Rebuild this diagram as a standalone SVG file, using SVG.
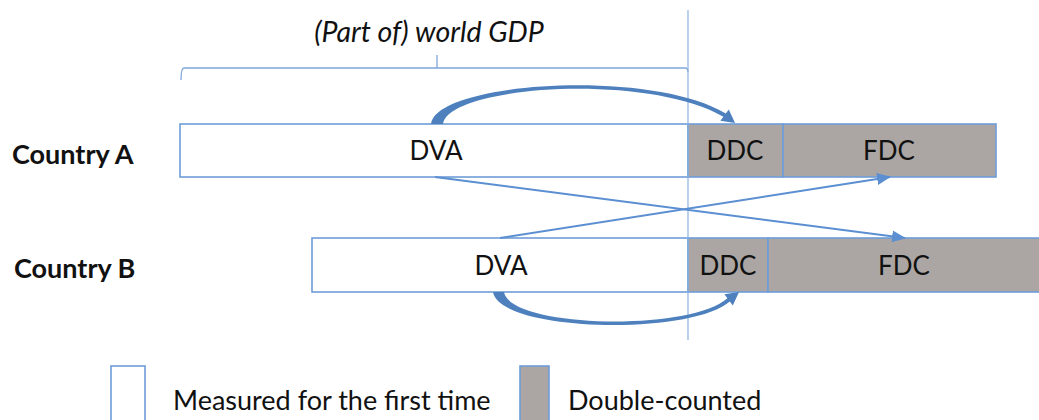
<svg xmlns="http://www.w3.org/2000/svg" width="1039" height="420" viewBox="0 0 1039 420">
<style>
.box{stroke:#6e9dd8;stroke-width:1.6}
.w{fill:#ffffff}
.g{fill:#aba6a3}
.lbl{font-family:Lato,"Liberation Sans",sans-serif;font-size:26px;fill:#111;text-anchor:middle}
.cty{font-family:Lato,"Liberation Sans",sans-serif;font-size:27px;font-weight:bold;fill:#111}
.leg{font-family:Lato,"Liberation Sans",sans-serif;font-size:27px;fill:#111}
.ttl{font-family:Lato,"Liberation Sans",sans-serif;font-size:28.5px;font-style:italic;fill:#111;text-anchor:middle}
.cross{stroke:#5b8fd2;stroke-width:2;fill:none}
.curve{fill:#4d80bd}
</style>
<defs>
<marker id="ah" viewBox="0 0 14 12" refX="13" refY="6" markerWidth="14" markerHeight="12" markerUnits="userSpaceOnUse" orient="auto">
<path d="M0,0 L14,6 L0,12 z" fill="#5b8fd2"/>
</marker>
</defs>
<rect width="1039" height="420" fill="#ffffff"/>

<g id="title">
<text class="ttl" x="429" y="42">(Part of) world GDP</text>
<path d="M181,80 Q181,68 184,68 L685,68 Q688,68 688,72 M437,68 L437,55" fill="none" stroke="#7fa7da" stroke-width="1.3"/>
</g>

<g id="countryA">
<text class="cty" x="12" y="164">Country A</text>
<rect class="box w" x="180" y="124" width="508" height="53"/>
<rect class="box g" x="688" y="124" width="95" height="53"/>
<rect class="box g" x="783" y="124" width="213" height="53"/>
<text class="lbl" x="436" y="160">DVA</text>
<text class="lbl" x="735" y="160">DDC</text>
<text class="lbl" x="889" y="160">FDC</text>
</g>

<g id="countryB">
<text class="cty" x="14" y="278">Country B</text>
<rect class="box w" x="312" y="238" width="376" height="54"/>
<rect class="box g" x="688" y="238" width="80" height="54"/>
<rect class="box g" x="768" y="238" width="273" height="54"/>
<text class="lbl" x="501" y="275">DVA</text>
<text class="lbl" x="728" y="275">DDC</text>
<text class="lbl" x="904" y="275">FDC</text>
</g>

<g id="divider">
<line x1="688" y1="10" x2="688" y2="340" stroke="#8db2e2" stroke-width="1.2"/>
</g>

<g id="connectors">
<line class="cross" x1="435" y1="177" x2="905" y2="238" marker-end="url(#ah)"/>
<line class="cross" x1="500" y1="238" x2="890" y2="177" marker-end="url(#ah)"/>
<path class="curve" d="M431,124 C436,82 650,68 725.8,113.6 L728.8,109.6 L735,123 L720.4,120.8 L723.4,116.8 C645,72 448,86 443,124 Z"/>
<path class="curve" d="M493,292 C500,332 690,336 729.8,301.4 L732.8,305.4 L739,292 L724.4,294.2 L727.4,298.2 C690,332 510,328 504,292 Z"/>
</g>

<g id="legend">
<rect class="box w" x="111" y="366" width="34" height="60"/>
<text class="leg" x="173" y="410">Measured for the first time</text>
<rect class="box g" x="520" y="366" width="29" height="60"/>
<text class="leg" x="568" y="410">Double-counted</text>
</g>
</svg>
